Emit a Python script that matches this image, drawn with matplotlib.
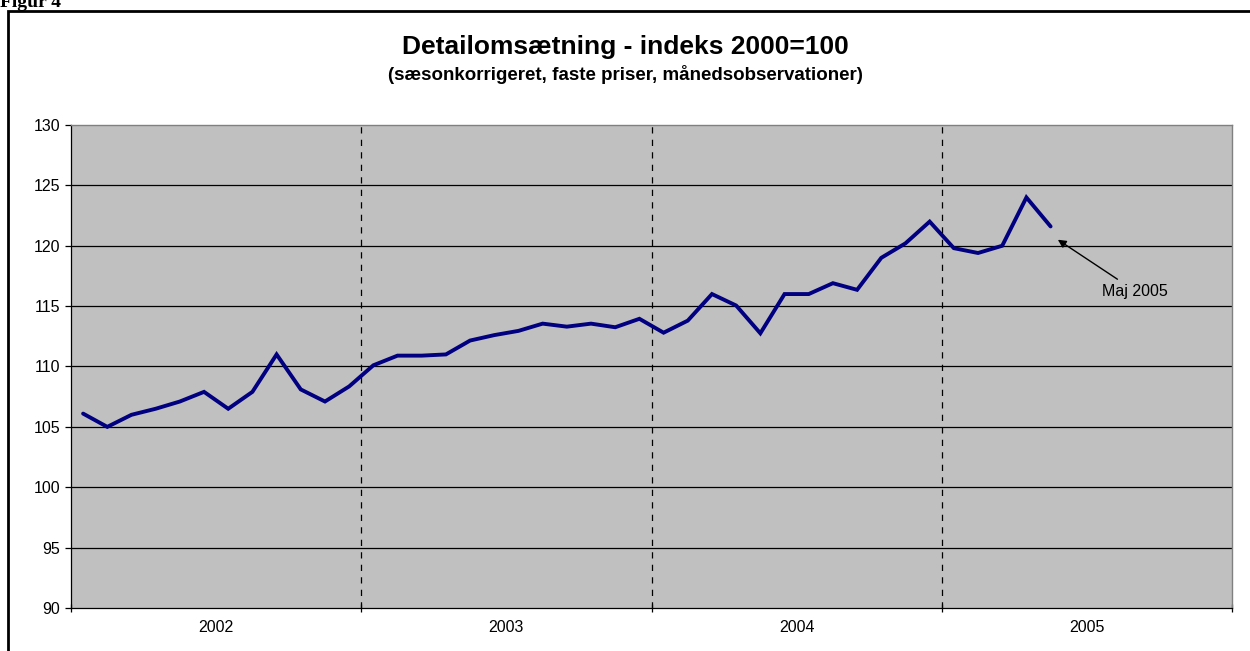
import numpy as np
import matplotlib.pyplot as plt
from matplotlib.patches import Rectangle

# monthly index values, Jan 2002 - May 2005
values = [106.1, 105.0, 106.0, 106.5, 107.1, 107.9, 106.5, 107.9, 111.0, 108.1, 107.1, 108.35,
          110.1, 110.9, 110.9, 111.0, 112.15, 112.6, 112.95, 113.55, 113.3, 113.55, 113.25, 113.95,
          112.8, 113.8, 116.0, 115.05, 112.75, 116.0, 116.0, 116.9, 116.35, 119.0, 120.2, 122.0,
          119.8, 119.4, 120.0, 124.0, 121.6]
years = ['2002', '2003', '2004', '2005']
yticks = [90, 95, 100, 105, 110, 115, 120, 125, 130]

plt.rcParams['font.family'] = ['Liberation Sans', 'DejaVu Sans']

fig = plt.figure(figsize=(12.5, 6.51), dpi=100)
ax = fig.add_axes([71 / 1250, 1 - 608 / 651, (1232 - 71) / 1250, (608 - 125) / 651])
ax.set_facecolor('#c0c0c0')

x = np.arange(len(values)) + 0.5
for y in yticks[1:-1]:
    ax.axhline(y, color='black', linewidth=0.9, zorder=1)
for i in range(1, len(years)):
    ax.axvline(12 * i, color='black', linewidth=0.9, linestyle=(0, (5, 5)), zorder=1)

ax.plot(x, values, color='#000080', linewidth=2.8, solid_joinstyle='miter',
        solid_capstyle='round', zorder=3)

ax.set_xlim(0, 12 * len(years))
ax.set_ylim(90, 130)
ax.set_yticks(yticks)
ax.set_xticks([12 * i for i in range(len(years) + 1)])
ax.set_xticklabels([])
ax.set_xticks([12 * i + 6 for i in range(len(years))], minor=True)
ax.set_xticklabels(years, minor=True, fontsize=11.5)
ax.tick_params(axis='x', which='minor', length=0, pad=9)
ax.tick_params(axis='x', which='major', direction='inout', length=6, width=0.9)
ax.tick_params(axis='y', direction='out', length=4, width=0.9, labelsize=11.5, pad=4)

for side in ['left', 'bottom']:
    ax.spines[side].set_color('black')
    ax.spines[side].set_linewidth(0.9)
for side in ['top', 'right']:
    ax.spines[side].set_color('#808080')
    ax.spines[side].set_linewidth(1.0)

ax.annotate('Maj 2005', xy=(40.8, 120.5), xytext=(44.0, 116.25),
            ha='center', va='center', fontsize=11.5,
            arrowprops=dict(arrowstyle='-|>', color='black', linewidth=1.0,
                            shrinkA=2, shrinkB=0, mutation_scale=12))

fig.text(0.5, 1 - 47 / 651, 'Detailomsætning - indeks 2000=100',
         ha='center', va='center', fontsize=19, fontweight='bold')
fig.text(0.5, 1 - 75 / 651, '(sæsonkorrigeret, faste priser, månedsobservationer)',
         ha='center', va='center', fontsize=13.5, fontweight='bold')
fig.text(0.0, 1 - 7 / 651, 'Figur 4', ha='left', va='baseline', fontsize=14,
         fontweight='bold', family='Liberation Serif')

fig.patches.append(Rectangle((8 / 1250, -0.05), 1.1, 1 - 11 / 651 + 0.05,
                             transform=fig.transFigure, fill=False,
                             edgecolor='black', linewidth=2, clip_on=False))

fig.savefig('out.png', dpi=100)
